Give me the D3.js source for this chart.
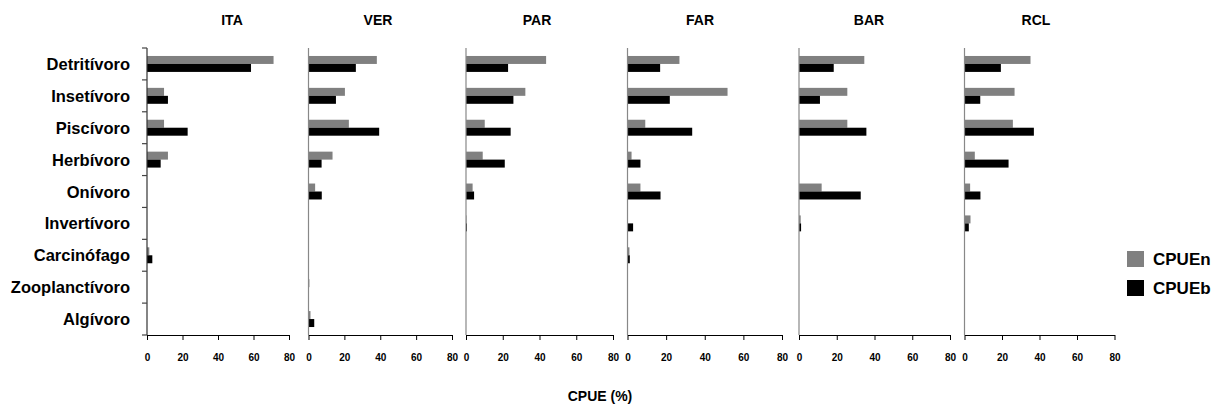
<!DOCTYPE html>
<html>
<head>
<meta charset="utf-8">
<script src="https://cdn.jsdelivr.net/npm/d3@7/dist/d3.min.js"></script>
<style>
  html, body { margin: 0; padding: 0; background: #fff; }
  svg { display: block; }
  text { font-family: "Liberation Sans", Arial, sans-serif; font-weight: bold; fill: #000; }
</style>
</head>
<body>
<svg id="chart" width="1212" height="404"></svg>
<script>
// ---------- DATA ----------
const categories = ["Detritívoro", "Insetívoro", "Piscívoro", "Herbívoro", "Onívoro",
                    "Invertívoro", "Carcinófago", "Zooplanctívoro", "Algívoro"];
const sites = ["ITA", "VER", "PAR", "FAR", "BAR", "RCL"];
const seriesNames = ["CPUEn", "CPUEb"];
const xTicks = [0, 20, 40, 60, 80];

const ITA_n = [71.3, 9.6, 9.6, 11.8, 0, 0, 1.3, 0, 0];
const ITA_b = [58.6, 11.8, 22.9, 7.7, 0, 0, 3.0, 0, 0];
const VER_n = [38.1, 20.3, 22.5, 13.4, 3.7, 0, 0, 0.5, 1.1];
const VER_b = [26.4, 15.3, 39.4, 7.3, 7.4, 0, 0, 0, 3.2];
const PAR_n = [43.6, 32.3, 10.2, 9.1, 3.6, 0.3, 0, 0, 0];
const PAR_b = [22.9, 25.8, 24.3, 21.1, 4.4, 0.5, 0, 0, 0];
const FAR_n = [26.9, 51.8, 9.2, 2.1, 6.7, 0, 1.0, 0, 0];
const FAR_b = [16.9, 21.9, 33.5, 6.7, 17.1, 2.9, 1.2, 0, 0];
const BAR_n = [34.6, 25.6, 25.6, 0, 12.0, 0.9, 0, 0, 0];
const BAR_b = [18.4, 11.1, 35.7, 0, 32.7, 1.1, 0, 0, 0];
const RCL_n = [35.2, 26.7, 25.8, 5.5, 3.0, 3.2, 0, 0, 0];
const RCL_b = [19.4, 8.4, 37.0, 23.5, 8.5, 2.3, 0, 0, 0];

const siteValues = {
  ITA: [ITA_n, ITA_b], VER: [VER_n, VER_b], PAR: [PAR_n, PAR_b],
  FAR: [FAR_n, FAR_b], BAR: [BAR_n, BAR_b], RCL: [RCL_n, RCL_b]
};

// ---------- LAYOUT ----------
const panelRanges = [[147, 289], [308.5, 452], [466, 613], [627.5, 782], [799, 950], [964.5, 1114.5]];
const titleX = [232, 378, 537, 700, 869, 1036];
const plotTop = 48, plotBottom = 335;
const colors = { CPUEn: "#808080", CPUEb: "#000000" };

const svg = d3.select("#chart");

const y = d3.scaleBand().domain(categories).range([plotTop, plotBottom])
  .paddingInner(0.5).paddingOuter(0.25);
const ySub = d3.scaleBand().domain(seriesNames).range([0, y.bandwidth()]);

sites.forEach((site, i) => {
  const [x0, x1] = panelRanges[i];
  const x = d3.scaleLinear().domain([0, 80]).range([x0, x1]);
  const g = svg.append("g");

  const rows = [];
  categories.forEach((c, ci) => {
    seriesNames.forEach((s, si) => rows.push({ cat: c, series: s, value: siteValues[site][si][ci] }));
  });

  g.selectAll("rect").data(rows.filter(d => d.value > 0)).enter().append("rect")
    .attr("x", x(0))
    .attr("y", d => y(d.cat) + ySub(d.series))
    .attr("width", d => x(d.value) - x(0))
    .attr("height", ySub.bandwidth())
    .attr("fill", d => colors[d.series]);

  // x axis
  const xa = g.append("g").attr("transform", `translate(0,${plotBottom})`)
    .call(d3.axisBottom(x).tickValues(xTicks).tickSize(5).tickSizeOuter(0).tickPadding(14));
  xa.select(".domain").attr("stroke", "#000").attr("stroke-width", 1.2);
  xa.selectAll(".tick line").attr("stroke", "#000");
  xa.selectAll("text").style("font-size", "10px").style("font-family", "'Liberation Sans', Arial, sans-serif")
    .style("font-weight", "bold");

  // y axis line
  const yAxisG = g.append("g").attr("transform", `translate(${x0},0)`);
  yAxisG.append("line").attr("x1", 0).attr("x2", 0).attr("y1", plotTop).attr("y2", plotBottom)
    .attr("stroke", i === 0 ? "#333" : "#888").attr("stroke-width", 1.2);
  if (i === 0) {
    const bounds = categories.map(c => y(c) - y.step() * 0.25).concat([plotBottom]);
    yAxisG.selectAll("line.tk").data(bounds).enter().append("line").attr("class", "tk")
      .attr("x1", -5).attr("x2", 0).attr("y1", d => d).attr("y2", d => d)
      .attr("stroke", "#444").attr("stroke-width", 1.2);
    g.selectAll("text.cat").data(categories).enter().append("text").attr("class", "cat")
      .attr("x", 130).attr("y", d => y(d) + y.bandwidth() / 2)
      .attr("text-anchor", "end").attr("dominant-baseline", "central")
      .style("font-size", "16.5px").text(d => d);
  }

  svg.append("text").attr("x", titleX[i]).attr("y", 20)
    .attr("text-anchor", "middle").attr("dominant-baseline", "central")
    .style("font-size", "14px").text(site);
});

// axis title
svg.append("text").attr("x", 600).attr("y", 396).attr("text-anchor", "middle")
  .attr("dominant-baseline", "central").style("font-size", "14px").text("CPUE (%)");

// legend
const legend = svg.append("g");
seriesNames.forEach((s, i) => {
  legend.append("rect").attr("x", 1127).attr("y", 251 + i * 29).attr("width", 17).attr("height", 16)
    .attr("fill", colors[s]);
  legend.append("text").attr("x", 1153).attr("y", 259 + i * 29).attr("dominant-baseline", "central")
    .style("font-family", "'Liberation Sans Narrow', 'Liberation Sans', Arial, sans-serif")
    .style("font-size", "17px").text(s);
});
</script>
</body>
</html>
